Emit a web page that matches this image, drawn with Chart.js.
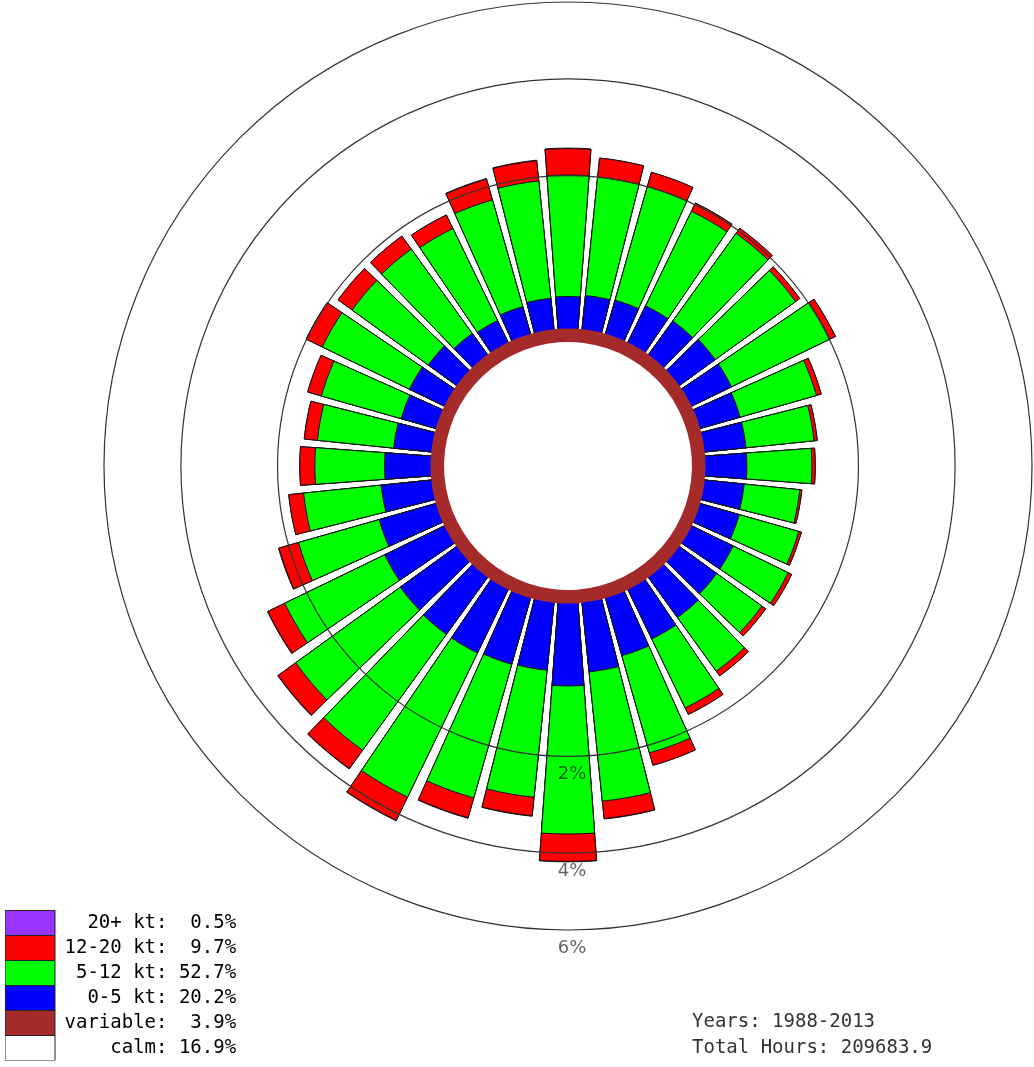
<!DOCTYPE html>
<html>
<head>
<meta charset="utf-8">
<script src="https://cdn.jsdelivr.net/npm/chart.js@4.4.1/dist/chart.umd.min.js"></script>
<style>
html, body { margin: 0; padding: 0; background: #ffffff; overflow: hidden; }
#wrap { width: 1034px; height: 1067px; position: relative; }
</style>
</head>
<body>
<div id="wrap"><canvas id="rose"></canvas></div>
<script>
// ---------------- data ----------------
const directions = [0,10,20,30,40,50,60,70,80,90,100,110,120,130,140,150,160,170,
                    180,190,200,210,220,230,240,250,260,270,280,290,300,310,320,330,340,350];
// per-direction share of all hours (%), by speed class
const kt0to5   = [0.30,0.32,0.33,0.39,0.40,0.43,0.43,0.40,0.40,0.40,0.38,0.39,0.45,0.45,0.49,0.55,0.61,0.73,
                  0.90,0.71,0.72,0.74,0.74,0.73,0.69,0.60,0.50,0.45,0.36,0.34,0.37,0.33,0.24,0.22,0.26,0.29];
const kt5to12  = [1.71,1.68,1.67,1.48,1.54,1.40,1.58,1.06,0.89,0.84,0.70,0.79,0.80,0.72,0.89,1.08,1.53,2.16,
                  2.66,2.10,2.34,2.82,2.44,2.14,1.76,1.22,1.08,0.93,1.00,1.09,1.33,1.26,1.37,1.33,1.50,1.64];
const kt12to20 = [0.49,0.35,0.27,0.16,0.11,0.09,0.11,0.08,0.05,0.05,0.03,0.04,0.06,0.07,0.09,0.12,0.24,0.37,
                  0.64,0.39,0.45,0.60,0.50,0.46,0.37,0.36,0.25,0.24,0.21,0.23,0.31,0.29,0.27,0.25,0.38,0.37];
const kt20plus = [0.01,0.00,0.00,0.00,0.00,0.00,0.00,0.00,0.00,0.00,0.00,0.00,0.00,0.00,0.00,0.00,0.00,0.01,
                  0.01,0.01,0.01,0.01,0.01,0.01,0.01,0.01,0.00,0.00,0.00,0.00,0.00,0.00,0.00,0.00,0.01,0.01];
// totals shown in the legend (%)
const speedNames  = ['0-5 kt', '5-12 kt', '12-20 kt', '20+ kt'];
const speedTotals = [20.2, 52.7, 9.7, 0.5];
const calmTotal = 16.9;
const variableTotal = 3.9;
// radial rings (% per direction)
const ringValues = [2, 4, 6];
const footerLines = ['Years: 1988-2013', 'Total Hours: 209683.9'];

// ---------------- styles ----------------
const speedColors = ['#0000ff', '#00ff00', '#ff0000', '#9933ff'];
const variableColor = '#a52a2a';
const calmColor = '#ffffff';
const sectorDeg = 360 / directions.length;
const barDeg = 8.3;
const gapDeg = sectorDeg - barDeg;

// ---------------- area-true radial scale ----------------
class WindRoseScale extends Chart.RadialLinearScale {
  getDistanceFromCenterForValue(value) {
    if (value === null || value === undefined || isNaN(+value)) return NaN;
    const o = this.options;
    const span = o.originArea + o.sectors * this.max;
    const f = (o.originArea + o.sectors * value) / span;
    return this.drawingArea * Math.sqrt(Math.max(f, 0));
  }
  getValueForDistanceFromCenter(distance) {
    const o = this.options;
    const span = o.originArea + o.sectors * this.max;
    const f = Math.pow(distance / this.drawingArea, 2);
    return (f * span - o.originArea) / o.sectors;
  }
  drawLabels() {
    const ctx = this.ctx;
    ctx.save();
    ctx.font = '18px "DejaVu Sans"';
    ctx.fillStyle = 'rgba(0,0,0,0.62)';
    ctx.textAlign = 'center';
    ctx.textBaseline = 'middle';
    this.ticks.forEach((tick, i) => {
      if (i === 0) return;
      const r = this.getDistanceFromCenterForValue(tick.value);
      ctx.fillText(tick.label, this.xCenter + 4, this.yCenter + r + 18);
    });
    ctx.restore();
  }
}
WindRoseScale.id = 'windRose';
WindRoseScale.defaults = {};
Chart.register(WindRoseScale);

// ---------------- build datasets ----------------
const series = [kt0to5, kt5to12, kt12to20, kt20plus];
const cumulative = [];
series.forEach((s, k) => {
  cumulative.push(s.map((v, i) => v + (k > 0 ? cumulative[k - 1][i] : 0)));
});
const labels = directions.flatMap(d => [d + '°', '']);
const interleave = arr => arr.flatMap(v => [v, 0]);

const barDataset = (k) => ({
  label: speedNames[k],
  data: interleave(cumulative[k]),
  angle: c => (c.dataIndex % 2 === 0 ? barDeg : gapDeg),
  backgroundColor: c => (c.dataIndex % 2 === 0 ? speedColors[k] : 'rgba(0,0,0,0)'),
  borderColor: '#111111',
  borderWidth: c => (c.dataIndex % 2 === 0 ? 1 : 0),
});

const datasets = [
  { label: 'calm', data: [-variableTotal / directions.length], angle: 360,
    backgroundColor: calmColor, borderWidth: 0 },
  { label: 'variable', data: [0], angle: 360,
    backgroundColor: variableColor, borderWidth: 0 },
  barDataset(0), barDataset(1), barDataset(2), barDataset(3)
];
const legendNames  = ['calm', 'variable'].concat(speedNames);
const legendTotals = [calmTotal, variableTotal].concat(speedTotals);
const legendColors = [calmColor, variableColor].concat(speedColors);
const legendText = i => (legendNames[i] + ':').padStart(9) + (legendTotals[i].toFixed(1) + '%').padStart(6);

// place legend bottom-left and footer bottom-right
const cornerPlacement = {
  id: 'cornerPlacement',
  afterLayout(chart) {
    const lg = chart.legend;
    if (lg) {
      const w = lg.width;
      lg.left = 5; lg.right = 5 + w; lg.top = 0; lg.bottom = 1060.5; lg.height = lg.bottom - lg.top;
    }
    const t = chart.titleBlock;
    if (t) {
      const h = t.height;
      t.left = 692; t.right = chart.width; t.top = 1009; t.bottom = 1009 + h; t.width = t.right - t.left;
    }
  }
};

new Chart(document.getElementById('rose'), {
  type: 'polarArea',
  data: { labels, datasets },
  plugins: [cornerPlacement],
  options: {
    responsive: true,
    maintainAspectRatio: false,
    animation: false,
    events: [],
    layout: { padding: { left: 104, right: 2, top: 2, bottom: 85 } },
    scales: {
      r: {
        type: 'windRose',
        originArea: calmTotal + variableTotal,
        sectors: directions.length,
        min: 0,
        max: ringValues[ringValues.length - 1],
        startAngle: -barDeg / 2,
        afterBuildTicks: s => { s.ticks = [0].concat(ringValues).map(v => ({ value: v })); },
        ticks: { display: false, z: 1, callback: v => v + '%' },
        grid: { display: true, circular: true, color: '#333333', lineWidth: 1.2, z: 1 },
        angleLines: { display: false },
        pointLabels: { display: false }
      }
    },
    plugins: {
      tooltip: { enabled: false },
      legend: {
        display: true,
        position: 'chartArea',
        align: 'end',
        labels: {
          boxWidth: 50,
          boxHeight: 25,
          padding: 0,
          color: '#333333',
          font: { family: 'DejaVu Sans Mono', size: 19 },
          generateLabels: () => legendNames.map((n, i) => ({
            text: legendText(i),
            fillStyle: legendColors[i],
            strokeStyle: '#222222',
            lineWidth: 1,
            hidden: false,
            datasetIndex: i
          })).reverse()
        }
      },
      title: {
        display: true,
        position: 'bottom',
        align: 'start',
        text: footerLines,
        color: '#333333',
        padding: 0,
        font: { family: 'DejaVu Sans Mono', size: 19, weight: 'normal', lineHeight: '26px' }
      }
    }
  }
});
</script>
</body>
</html>
